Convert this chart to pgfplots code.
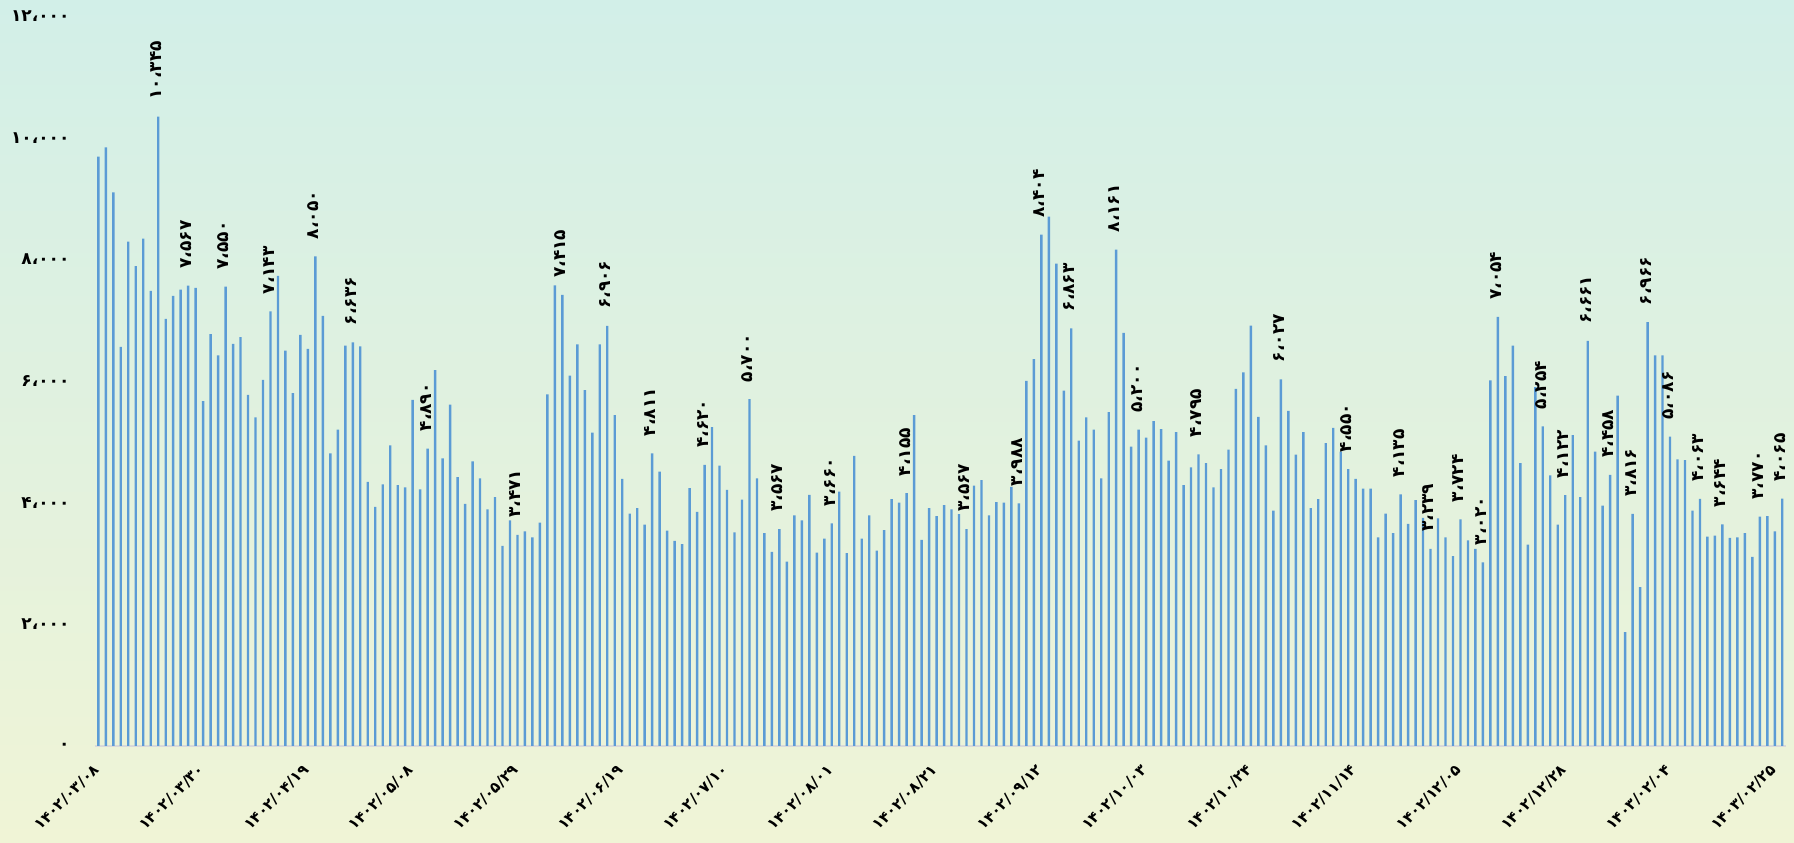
\documentclass[border=0pt]{standalone}
\usepackage{pgfplots}
\pgfplotsset{compat=1.18}
\usepackage{fontspec}
\newfontfamily\fa{DejaVu Sans}
\definecolor{bgtop}{RGB}{210,239,232}
\definecolor{bgbot}{RGB}{240,244,214}
\definecolor{barblue}{RGB}{91,155,213}
\definecolor{axgray}{RGB}{217,217,217}
\begin{document}
\begin{tikzpicture}
\shade[top color=bgtop, bottom color=bgbot] (0,0) rectangle (1794pt,843pt);
\begin{axis}[
  at={(94.6pt,97pt)}, anchor=south west, scale only axis,
  width=1691.4pt, height=730pt,
  xmin=-0.5, xmax=225.5, ymin=0, ymax=12000,
  axis x line*=bottom, axis y line*=left,
  x axis line style={-, draw=axgray, line width=1.5pt},
  y axis line style={draw=none},
  xtick={0,14,...,224},
  xticklabels={۱۴۰۲/۰۳/۰۸,۱۴۰۲/۰۳/۳۰,۱۴۰۲/۰۴/۱۹,۱۴۰۲/۰۵/۰۸,۱۴۰۲/۰۵/۲۹,۱۴۰۲/۰۶/۱۹,۱۴۰۲/۰۷/۱۰,۱۴۰۲/۰۸/۰۱,۱۴۰۲/۰۸/۲۱,۱۴۰۲/۰۹/۱۲,۱۴۰۲/۱۰/۰۳,۱۴۰۲/۱۰/۲۴,۱۴۰۲/۱۱/۱۴,۱۴۰۲/۱۲/۰۵,۱۴۰۲/۱۲/۲۸,۱۴۰۳/۰۲/۰۴,۱۴۰۳/۰۲/۲۵},
  ytick={0,2000,4000,6000,8000,10000,12000},
  yticklabels={۰,۲،۰۰۰,۴،۰۰۰,۶،۰۰۰,۸،۰۰۰,۱۰،۰۰۰,۱۲،۰۰۰},
  major tick length=0pt,
  tick label style={font=\fa\bfseries\fontsize{17}{19}\selectfont, black},
  xticklabel style={font=\fa\bfseries\fontsize{15}{17}\selectfont, anchor=north east, inner sep=0pt, xshift=-6pt, yshift=-17pt, rotate=45},
  yticklabel style={anchor=east, inner sep=0pt, xshift=-25pt},
  clip=false,
]
\addplot[ybar, bar width=2.4pt, bar shift=0pt, draw=none, fill=barblue] table {
x y
0 9690
1 9840
2 9100
3 6560
4 8290
5 7890
6 8340
7 7480
8 10345
9 7020
10 7400
11 7500
12 7567
13 7530
14 5670
15 6770
16 6420
17 7550
18 6610
19 6720
20 5770
21 5400
22 6020
23 7143
24 7730
25 6500
26 5800
27 6760
28 6530
29 8050
30 7070
31 4810
32 5200
33 6580
34 6636
35 6570
36 4340
37 3930
38 4300
39 4940
40 4290
41 4250
42 5690
43 4220
44 4890
45 6180
46 4730
47 5610
48 4420
49 3980
50 4680
51 4400
52 3890
53 4090
54 3290
55 3710
56 3471
57 3530
58 3430
59 3670
60 5780
61 7570
62 7415
63 6090
64 6600
65 5850
66 5150
67 6600
68 6906
69 5440
70 4390
71 3820
72 3910
73 3640
74 4811
75 4510
76 3540
77 3370
78 3320
79 4240
80 3850
81 4620
82 5240
83 4610
84 4210
85 3510
86 4050
87 5700
88 4400
89 3500
90 3190
91 3567
92 3030
93 3790
94 3710
95 4130
96 3180
97 3410
98 3660
99 4180
100 3170
101 4770
102 3410
103 3790
104 3210
105 3550
106 4060
107 4000
108 4155
109 5440
110 3390
111 3910
112 3780
113 3960
114 3890
115 3810
116 3567
117 4280
118 4370
119 3790
120 4010
121 4000
122 4260
123 3988
124 6000
125 6360
126 8404
127 8700
128 7930
129 5840
130 6863
131 5020
132 5400
133 5200
134 4400
135 5490
136 8161
137 6790
138 4920
139 5200
140 5070
141 5340
142 5210
143 4690
144 5160
145 4290
146 4580
147 4795
148 4650
149 4250
150 4550
151 4870
152 5870
153 6140
154 6910
155 5410
156 4940
157 3870
158 6027
159 5510
160 4790
161 5160
162 3910
163 4060
164 4980
165 5230
166 4840
167 4550
168 4390
169 4230
170 4230
171 3430
172 3820
173 3500
174 4135
175 3650
176 4040
177 3750
178 3239
179 3740
180 3430
181 3120
182 3724
183 3380
184 3240
185 3020
186 6010
187 7054
188 6080
189 6580
190 4650
191 3310
192 5900
193 5254
194 4450
195 3640
196 4122
197 5110
198 4090
199 6661
200 4840
201 3950
202 4458
203 5760
204 1870
205 3816
206 2610
207 6966
208 6420
209 6420
210 5086
211 4710
212 4700
213 3870
214 4063
215 3440
216 3460
217 3644
218 3420
219 3430
220 3500
221 3110
222 3770
223 3780
224 3530
225 4065
};
\addplot[ybar, bar width=2pt, bar shift=0pt, draw=none, fill=none,
  point meta=explicit symbolic,
  nodes near coords,
  nodes near coords style={rotate=90, anchor=west, inner sep=0pt, xshift=17pt, yshift=2pt,
    font=\fa\bfseries\fontsize{17}{19}\selectfont, black}]
coordinates {
(8,10345) [۱۰،۳۴۵]
(12,7567) [۷،۵۶۷]
(17,7550) [۷،۵۵۰]
(23,7143) [۷،۱۴۳]
(29,8050) [۸،۰۵۰]
(34,6636) [۶،۶۳۶]
(44,4890) [۴،۸۹۰]
(56,3471) [۳،۴۷۱]
(62,7415) [۷،۴۱۵]
(68,6906) [۶،۹۰۶]
(74,4811) [۴،۸۱۱]
(81,4620) [۴،۶۲۰]
(87,5700) [۵،۷۰۰]
(91,3567) [۳،۵۶۷]
(98,3660) [۳،۶۶۰]
(108,4155) [۴،۱۵۵]
(116,3567) [۳،۵۶۷]
(123,3988) [۳،۹۸۸]
(126,8404) [۸،۴۰۴]
(130,6863) [۶،۸۶۳]
(136,8161) [۸،۱۶۱]
(139,5200) [۵،۲۰۰]
(147,4795) [۴،۷۹۵]
(158,6027) [۶،۰۲۷]
(167,4550) [۴،۵۵۰]
(174,4135) [۴،۱۳۵]
(178,3239) [۳،۲۳۹]
(182,3724) [۳،۷۲۴]
(185,3020) [۳،۰۲۰]
(187,7054) [۷،۰۵۴]
(193,5254) [۵،۲۵۴]
(196,4122) [۴،۱۲۲]
(199,6661) [۶،۶۶۱]
(202,4458) [۴،۴۵۸]
(205,3816) [۳،۸۱۶]
(207,6966) [۶،۹۶۶]
(210,5086) [۵،۰۸۶]
(214,4063) [۴،۰۶۳]
(217,3644) [۳،۶۴۴]
(222,3770) [۳،۷۷۰]
(225,4065) [۴،۰۶۵]
};
\end{axis}
\pgfresetboundingbox
\useasboundingbox (0,0) rectangle (1794pt,843pt);
\end{tikzpicture}
\end{document}
